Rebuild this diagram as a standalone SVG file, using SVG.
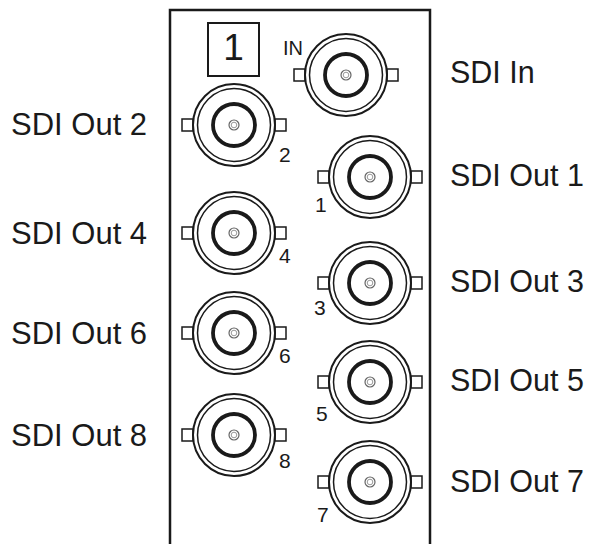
<svg xmlns="http://www.w3.org/2000/svg" xmlns:xlink="http://www.w3.org/1999/xlink" width="590" height="544" viewBox="0 0 590 544">
<style>
.lbl{font-family:"Liberation Sans",Arial,sans-serif;font-size:30.5px;fill:#1a1a1a}
.l{font-size:31px}
.num{font-family:"Liberation Sans",Arial,sans-serif;font-size:21px;fill:#1a1a1a}
.ln{fill:none;stroke:#1a1a1a}
</style>
<defs>
<g id="bnc">
<rect x="-52" y="-6" width="11" height="12" fill="#fff" stroke="#1a1a1a" stroke-width="1.5"/>
<rect x="41" y="-6" width="11" height="12" fill="#fff" stroke="#1a1a1a" stroke-width="1.5"/>
<circle r="41" fill="#fff" stroke="#1a1a1a" stroke-width="2"/>
<circle r="36.5" class="ln" stroke-width="1.5"/>
<circle r="21" class="ln" stroke-width="3.8"/>
<circle r="5" fill="none" stroke="#666" stroke-width="1.2"/>
<circle r="2.8" fill="none" stroke="#999" stroke-width="1"/>
</g>
</defs>
<rect width="590" height="544" fill="#fff"/>
<g id="panel">
<path d="M170,544 V10 H430 V544" class="ln" stroke-width="2.5"/>
<rect x="208" y="23" width="51" height="53" class="ln" stroke-width="2"/>
<text x="233.5" y="60" text-anchor="middle" class="lbl" style="font-size:37px">1</text>
</g>
<g id="sdi-in">
<use xlink:href="#bnc" x="346" y="75"/>
<text x="283" y="55" class="num" style="font-size:20px">IN</text>
<text x="450" y="83" class="lbl">SDI In</text>
</g>
<g id="out2">
<use xlink:href="#bnc" x="234" y="125"/>
<text x="279" y="162" class="num">2</text>
<text x="11" y="135" class="lbl l">SDI Out 2</text>
</g>
<g id="out4">
<use xlink:href="#bnc" x="234" y="233"/>
<text x="279" y="263" class="num">4</text>
<text x="11" y="244" class="lbl l">SDI Out 4</text>
</g>
<g id="out6">
<use xlink:href="#bnc" x="234" y="333"/>
<text x="279" y="363" class="num">6</text>
<text x="11" y="344" class="lbl l">SDI Out 6</text>
</g>
<g id="out8">
<use xlink:href="#bnc" x="234" y="435"/>
<text x="279" y="468" class="num">8</text>
<text x="11" y="446" class="lbl l">SDI Out 8</text>
</g>
<g id="out1">
<use xlink:href="#bnc" x="370" y="177"/>
<text x="315" y="212" class="num">1</text>
<text x="450" y="186" class="lbl">SDI Out 1</text>
</g>
<g id="out3">
<use xlink:href="#bnc" x="370" y="283"/>
<text x="314" y="315" class="num">3</text>
<text x="450" y="292" class="lbl">SDI Out 3</text>
</g>
<g id="out5">
<use xlink:href="#bnc" x="370" y="382"/>
<text x="316" y="421" class="num">5</text>
<text x="450" y="391" class="lbl">SDI Out 5</text>
</g>
<g id="out7">
<use xlink:href="#bnc" x="370" y="482"/>
<text x="317" y="522" class="num">7</text>
<text x="450" y="492" class="lbl">SDI Out 7</text>
</g>
<g id="connectors"></g>
</svg>
